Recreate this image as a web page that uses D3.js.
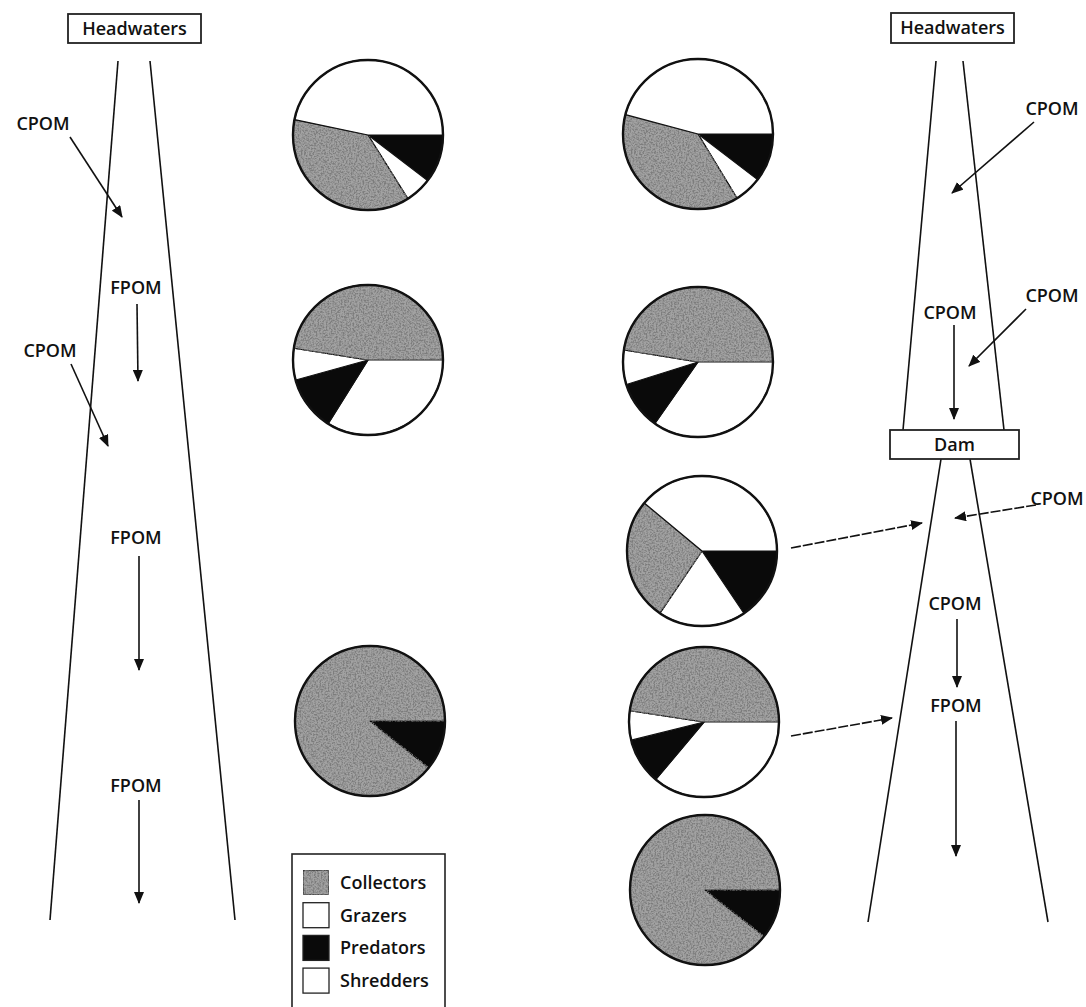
<!DOCTYPE html>
<html>
<head>
<meta charset="utf-8">
<script src="https://cdn.jsdelivr.net/npm/d3@7"></script>
<style>
  body { margin: 0; background: #fff; }
  svg { display: block; }
  text { font-family: "Open Sans", "Noto Sans", sans-serif; fill: #111; font-weight: 600; }
</style>
</head>
<body>
<svg id="chart" width="1086" height="1007"></svg>
<script>
// functional feeding groups (legend order)
var categories = ["Collectors", "Grazers", "Predators", "Shredders"];

// pies: left column = natural river, right column = river with a dam
var pieNames   = ["L1", "L2", "L3", "R1", "R2", "R3", "R4", "R5"];
// percent of each group
var collectors = [37.2, 47.5, 89.3, 37.8, 47.4, 26.6, 47.6, 89.4];
var grazers    = [ 5.7, 33.9,  0.0,  5.9, 34.7, 39.0, 36.1,  0.0];
var predators  = [10.4, 11.8, 10.7, 10.4, 10.4, 15.6, 10.0, 10.6];
var shredders  = [46.7,  6.8,  0.0, 45.8,  7.4, 18.9,  6.3,  0.0];
// order of the wedges, clockwise from 3 o'clock (indices into categories)
var sliceOrder = [[2,1,0,3], [1,2,3,0], [2,0], [2,1,0,3], [1,2,3,0], [2,3,0,1], [1,2,3,0], [2,0]];

// stream labels
var labelsText = ["Headwaters", "Dam", "CPOM", "FPOM"];

// ---- layout (positions only) ----
var pieCenter = {
  L1: [368, 135], L2: [368, 360], L3: [370, 721],
  R1: [698, 134], R2: [698, 362], R3: [702, 551], R4: [704, 722], R5: [705, 890]
};
var radius = 75;
var fills = ["#a2a2a2", "#ffffff", "#0a0a0a", "#ffffff"];

var svg = d3.select("#chart");

// speckled texture for the collectors
var defs = svg.append("defs");
var f = defs.append("filter").attr("id", "speckle")
  .attr("x", 0).attr("y", 0).attr("width", "100%").attr("height", "100%");
f.append("feTurbulence").attr("type", "fractalNoise").attr("baseFrequency", 0.6)
  .attr("numOctaves", 2).attr("seed", 4).attr("result", "noise");
f.append("feColorMatrix").attr("in", "noise").attr("type", "matrix")
  .attr("values", "0 0 0 0 0.2  0 0 0 0 0.2  0 0 0 0 0.2  0 0 0 3.2 -1.25")
  .attr("result", "dark");
f.append("feComposite").attr("in", "dark").attr("in2", "SourceGraphic")
  .attr("operator", "in").attr("result", "clipped");
var fm = f.append("feMerge");
fm.append("feMergeNode").attr("in", "SourceGraphic");
fm.append("feMergeNode").attr("in", "clipped");

defs.append("marker").attr("id", "head")
  .attr("markerUnits", "userSpaceOnUse")
  .attr("viewBox", "0 0 12 10").attr("refX", 11).attr("refY", 5)
  .attr("markerWidth", 12).attr("markerHeight", 10).attr("orient", "auto")
  .append("path").attr("d", "M0,0 L12,5 L0,10 Z").attr("fill", "#111");

// ---- stream banks ----
var banks = [
  [[118, 61], [50, 920]], [[150, 61], [235, 920]],
  [[936, 61], [903, 430]], [[963, 61], [1004, 430]],
  [[941, 459], [868, 922]], [[970, 459], [1048, 922]]
];
svg.append("g").selectAll("line").data(banks).enter().append("line")
  .attr("x1", function(d){ return d[0][0]; }).attr("y1", function(d){ return d[0][1]; })
  .attr("x2", function(d){ return d[1][0]; }).attr("y2", function(d){ return d[1][1]; })
  .attr("stroke", "#111").attr("stroke-width", 1.6);

// ---- boxes (Headwaters, Dam) ----
var boxes = [
  {t: 0, x: 68, y: 14, w: 133, h: 29},
  {t: 0, x: 891, y: 13, w: 123, h: 30},
  {t: 1, x: 890, y: 430, w: 129, h: 29}
];
var bx = svg.append("g").selectAll("g").data(boxes).enter().append("g");
bx.append("rect")
  .attr("x", function(d){ return d.x; }).attr("y", function(d){ return d.y; })
  .attr("width", function(d){ return d.w; }).attr("height", function(d){ return d.h; })
  .attr("fill", "#fff").attr("stroke", "#222").attr("stroke-width", 1.8);
bx.append("text")
  .attr("x", function(d){ return d.x + d.w / 2; }).attr("y", function(d){ return d.y + d.h / 2 + 6; })
  .attr("text-anchor", "middle").attr("font-size", "18px")
  .text(function(d){ return labelsText[d.t]; });

// ---- CPOM / FPOM labels and arrows ----
var notes = [
  {t: 2, lx: 43, ly: 130, a: [[70, 137], [122, 217]]},
  {t: 3, lx: 136, ly: 294, a: [[137, 304], [138, 381]]},
  {t: 2, lx: 50, ly: 357, a: [[71, 364], [108, 446]]},
  {t: 3, lx: 136, ly: 544, a: [[139, 556], [139, 670]]},
  {t: 3, lx: 136, ly: 792, a: [[139, 800], [139, 903]]},
  {t: 2, lx: 1052, ly: 115, a: [[1034, 122], [952, 193]]},
  {t: 2, lx: 1052, ly: 302, a: [[1026, 309], [969, 366]]},
  {t: 2, lx: 950, ly: 319, a: [[954, 325], [954, 419]]},
  {t: 2, lx: 1057, ly: 505, a: [[1036, 505], [955, 518]], dash: true},
  {t: -1, a: [[791, 548], [922, 523]], dash: true},
  {t: 2, lx: 955, ly: 610, a: [[957, 619], [957, 687]]},
  {t: 3, lx: 956, ly: 712, a: [[956, 721], [956, 856]]},
  {t: -1, a: [[791, 736], [892, 718]], dash: true}
];
var ng = svg.append("g");
ng.selectAll("line").data(notes).enter().append("line")
  .attr("x1", function(d){ return d.a[0][0]; }).attr("y1", function(d){ return d.a[0][1]; })
  .attr("x2", function(d){ return d.a[1][0]; }).attr("y2", function(d){ return d.a[1][1]; })
  .attr("stroke", "#111").attr("stroke-width", 1.6)
  .attr("stroke-dasharray", function(d){ return d.dash ? "10,2" : null; })
  .attr("marker-end", "url(#head)");
ng.selectAll("text").data(notes.filter(function(d){ return d.t >= 0; })).enter().append("text")
  .attr("x", function(d){ return d.lx; }).attr("y", function(d){ return d.ly; })
  .attr("text-anchor", "middle").attr("font-size", "18px")
  .text(function(d){ return labelsText[d.t]; });

// ---- pies ----
var arc = d3.arc().innerRadius(0).outerRadius(radius);
var pie = d3.pie().sort(null).value(function(d){ return d.v; })
  .startAngle(Math.PI / 2).endAngle(Math.PI / 2 + 2 * Math.PI);
var series = [collectors, grazers, predators, shredders];

pieNames.forEach(function(name, i) {
  var slices = sliceOrder[i].map(function(c) { return {c: c, v: series[c][i]}; });
  var g = svg.append("g")
    .attr("transform", "translate(" + pieCenter[name][0] + "," + pieCenter[name][1] + ")");
  g.selectAll("path").data(pie(slices)).enter().append("path")
    .attr("d", arc)
    .attr("fill", function(d){ return fills[d.data.c]; })
    .attr("filter", function(d){ return d.data.c === 0 ? "url(#speckle)" : null; })
    .attr("stroke", "#111").attr("stroke-width", 1.2).attr("stroke-linejoin", "round");
  g.append("circle").attr("r", radius)
    .attr("fill", "none").attr("stroke", "#111").attr("stroke-width", 2.4);
});

// ---- legend ----
var lg = svg.append("g").attr("transform", "translate(292,854)");
lg.append("rect").attr("width", 153).attr("height", 170)
  .attr("fill", "#fff").attr("stroke", "#222").attr("stroke-width", 1.6);
var items = lg.selectAll("g.item").data(categories).enter().append("g")
  .attr("class", "item")
  .attr("transform", function(d, i){ return "translate(11," + (16 + i * 32.7) + ")"; });
items.append("rect").attr("width", 26).attr("height", 25)
  .attr("fill", function(d, i){ return fills[i]; })
  .attr("filter", function(d, i){ return i === 0 ? "url(#speckle)" : null; })
  .attr("stroke", "#222").attr("stroke-width", 1.3);
items.append("text").attr("x", 37).attr("y", 19).attr("font-size", "18px")
  .text(function(d){ return d; });
</script>
</body>
</html>
